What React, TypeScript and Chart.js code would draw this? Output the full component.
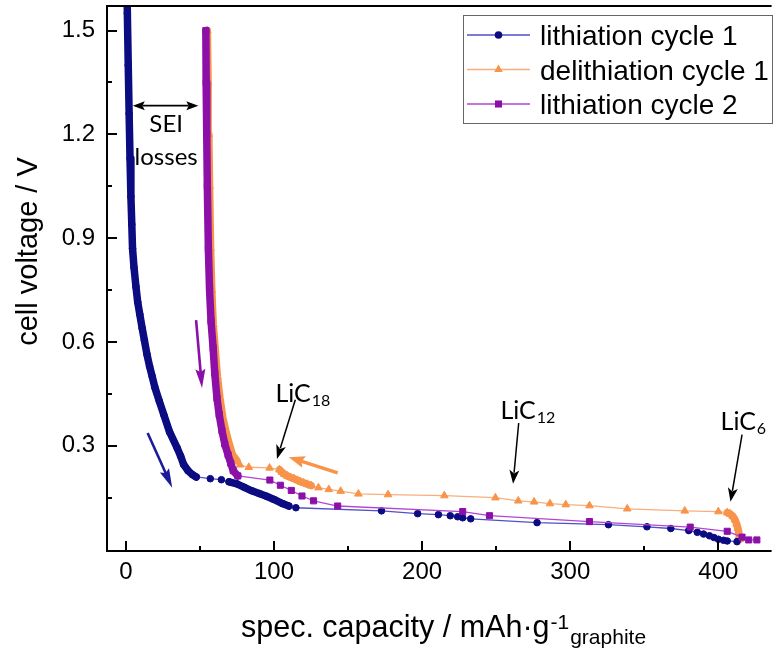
import React, { useEffect, useRef } from 'react';
import { Chart, registerables } from 'chart.js';

Chart.register(...registerables);

// ---------------- data ----------------
const lith1Capacity = [0, 0.5, 1.0, 1.6, 2.2, 2.8, 3.4, 4.0, 4.5, 5.5, 6.8, 8.0, 9.4, 11.0, 12.5, 14.2, 16.0, 17.8, 19.5, 22.5, 25.6, 29.5, 34.6, 37, 39, 42, 44.8, 47.5,
  57, 64.5,
  69.7, 75, 80, 85, 90, 95, 100, 105.7, 110,
  114.8, 172.6, 197, 211, 219, 224, 227.4, 232.8, 277.6, 325.8, 351.8, 367.9, 380, 385.8, 390, 394, 397, 400, 403.5, 406, 412.6];
const lith1Voltage = [1.9, 1.7, 1.55, 1.4, 1.26, 1.13, 1.02, 0.94, 0.87, 0.815, 0.76, 0.715, 0.68, 0.64, 0.605, 0.565, 0.53, 0.5, 0.47, 0.43, 0.39, 0.34, 0.294, 0.27, 0.246, 0.228, 0.217, 0.21,
  0.205, 0.202,
  0.196, 0.19, 0.18, 0.17, 0.162, 0.154, 0.145, 0.133, 0.126,
  0.121, 0.112, 0.104, 0.101, 0.098, 0.095, 0.092, 0.089, 0.078, 0.072, 0.066, 0.061, 0.055, 0.05, 0.045, 0.04, 0.035, 0.03, 0.027, 0.025, 0.023];

const delith1Capacity = [414.5, 414.2, 413.8, 413.2, 412.4, 411.3, 409.8, 408, 406,
  400, 377.3, 338.5, 313, 297, 286.3, 275.6, 264.9, 249.5, 215, 177, 157, 145, 137, 130,
  125, 122.5, 120, 118, 116, 113.5, 111, 109, 107, 105.3, 103.7,
  97, 83, 77,
  75, 72, 69.5, 67.5, 65.5, 63.5, 61.8, 60.3, 59, 58, 57.2, 56.5, 56, 55.5, 55];
const delith1Voltage = [0.03, 0.04, 0.05, 0.062, 0.074, 0.086, 0.096, 0.103, 0.107,
  0.11, 0.112, 0.118, 0.127, 0.13, 0.133, 0.138, 0.141, 0.15, 0.156, 0.159, 0.161, 0.169, 0.174, 0.179,
  0.185, 0.189, 0.193, 0.196, 0.2, 0.205, 0.209, 0.213, 0.218, 0.224, 0.231,
  0.236, 0.238, 0.245,
  0.257, 0.274, 0.31, 0.343, 0.38, 0.438, 0.5, 0.58, 0.65, 0.75, 0.87, 1.05, 1.2, 1.35, 1.5];

const lith2Capacity = [54, 54.2, 54.6, 55, 55.7, 56.5, 57.5, 58.9, 60, 61.5, 63, 64.9, 66.8, 69, 70.8, 72.5, 75.6,
  97.2, 104.3, 111.7, 118.9, 126.7, 143, 227.4, 245.5, 313, 381, 406, 416, 420.5, 426];
const lith2Voltage = [1.5, 1.35, 1.2, 1.05, 0.87, 0.75, 0.66, 0.583, 0.51, 0.438, 0.39, 0.343, 0.305, 0.274, 0.25, 0.228, 0.213,
  0.201, 0.186, 0.171, 0.155, 0.141, 0.126, 0.11, 0.098, 0.081, 0.065, 0.053, 0.036, 0.028, 0.028];

const seriesLabels = ['lithiation cycle 1', 'delithiation cycle 1', 'lithiation cycle 2'];

const xTickValues = [0, 100, 200, 300, 400];
const xMinorTickValues = [50, 150, 250, 350];
const yTickValues = [0.3, 0.6, 0.9, 1.2, 1.5];
const yMinorTickValues = [0.15, 0.45, 0.75, 1.05, 1.35];

const yAxisTitle = 'cell voltage / V';
const xAxisTitleMain = 'spec. capacity / mAh·g';
const xAxisTitleSup = '-1';
const xAxisTitleSub = 'graphite';

// index runs where the measured points are so dense that they merge into a thick band
const denseRuns: number[][][] = [
  [[0, 27], [30, 38]],
  [[0, 8], [24, 34], [38, 52]],
  [[0, 16]],
];

// ---------------- styles ----------------
const AXIS_FONT = '"Liberation Sans", Arial, Helvetica, sans-serif';
const NOTE_FONT = 'Lato, "Open Sans", sans-serif';
const markerColors = ['#0b0b82', '#f8944a', '#8c10a8'];
const lineColors = ['#5050c8', '#f9ae7c', '#b445d4'];
const pointStyles = ['circle', 'triangle', 'rect'];
const pointRadii = [3.3, 4.4, 4.3];

const X_MIN = -12.74;
const X_MAX = 434.6;
const Y_MIN = -0.004;
const Y_MAX = 1.571;

// annotations placed in data coordinates
const textNotes = [
  { x: 27.2, y: 1.206, text: 'SEI', align: 'center' },
  { x: 27.2, y: 1.111, text: 'losses', align: 'center' },
];
const chemNotes = [
  { x: 101, y: 0.426, main: 'LiC', sub: '18' },
  { x: 252.9, y: 0.378, main: 'LiC', sub: '12' },
  { x: 401.5, y: 0.347, main: 'LiC', sub: '6' },
];
const blackArrows = [
  { x1: 114.4, y1: 0.433, x2: 102, y2: 0.262 },
  { x1: 265.2, y1: 0.366, x2: 261.4, y2: 0.19 },
  { x1: 416, y1: 0.332, x2: 408.2, y2: 0.138 },
];
const seiArrow = { x1: 4.7, x2: 48.9, y: 1.283 };
const colorArrows = [
  { x1: 47.4, y1: 0.663, x2: 51.4, y2: 0.467, color: '#8c10a8', w: 2.6, hl: 19, hw: 5 },
  { x1: 14.7, y1: 0.337, x2: 31.3, y2: 0.179, color: '#1c1c9a', w: 2.6, hl: 19, hw: 5 },
  { x1: 143, y1: 0.222, x2: 110, y2: 0.267, color: '#f8944a', w: 3.4, hl: 16, hw: 6 },
];

function inRuns(runs: number[][], i0: number, i1: number) {
  return runs.some(([a, b]) => i0 >= a && i1 <= b);
}

function drawArrowHead(ctx: CanvasRenderingContext2D, x1: number, y1: number, x2: number, y2: number, hl: number, hw: number, notch: number) {
  const len = Math.hypot(x2 - x1, y2 - y1);
  const ux = (x2 - x1) / len, uy = (y2 - y1) / len;
  const bx = x2 - ux * hl, by = y2 - uy * hl;
  ctx.beginPath();
  ctx.moveTo(x2, y2);
  ctx.lineTo(bx - uy * hw, by + ux * hw);
  ctx.lineTo(x2 - ux * hl * notch, y2 - uy * hl * notch);
  ctx.lineTo(bx + uy * hw, by - ux * hw);
  ctx.closePath();
  ctx.fill();
}

function drawArrow(ctx: CanvasRenderingContext2D, x1: number, y1: number, x2: number, y2: number, color: string, lw: number, hl: number, hw: number, notch = 1) {
  const len = Math.hypot(x2 - x1, y2 - y1);
  const ux = (x2 - x1) / len, uy = (y2 - y1) / len;
  ctx.save();
  ctx.strokeStyle = color;
  ctx.fillStyle = color;
  ctx.lineWidth = lw;
  ctx.beginPath();
  ctx.moveTo(x1, y1);
  ctx.lineTo(x2 - ux * hl * 0.8, y2 - uy * hl * 0.8);
  ctx.stroke();
  drawArrowHead(ctx, x1, y1, x2, y2, hl, hw, notch);
  ctx.restore();
}

function drawMarker(ctx: CanvasRenderingContext2D, style: string, x: number, y: number, r: number, color: string) {
  ctx.save();
  ctx.fillStyle = color;
  ctx.beginPath();
  if (style === 'circle') {
    ctx.arc(x, y, r + 0.5, 0, Math.PI * 2);
  } else if (style === 'triangle') {
    const rr = r + 0.5;
    ctx.moveTo(x, y - rr);
    ctx.lineTo(x + rr * Math.sin(Math.PI * 2 / 3), y - rr * Math.cos(Math.PI * 2 / 3));
    ctx.lineTo(x + rr * Math.sin(Math.PI * 4 / 3), y - rr * Math.cos(Math.PI * 4 / 3));
    ctx.closePath();
  } else {
    const s = r * Math.SQRT1_2 + 0.5;
    ctx.rect(x - s, y - s, 2 * s, 2 * s);
  }
  ctx.fill();
  ctx.restore();
}

const decorPlugin = {
  id: 'decor',
  afterDraw(chart: any) {
    const ctx: CanvasRenderingContext2D = chart.ctx;
    const area = chart.chartArea;
    const xs = chart.scales.x;
    const ys = chart.scales.y;
    const px = (v: number) => xs.getPixelForValue(v);
    const py = (v: number) => ys.getPixelForValue(v);

    ctx.save();
    // frame (left, bottom, top)
    ctx.strokeStyle = '#000';
    ctx.lineWidth = 2;
    ctx.beginPath();
    ctx.moveTo(area.right + 2, area.top);
    ctx.lineTo(area.left, area.top);
    ctx.lineTo(area.left, area.bottom);
    ctx.lineTo(area.right + 2, area.bottom);
    ctx.stroke();

    // inward ticks
    ctx.lineWidth = 2;
    ctx.beginPath();
    xs.ticks.forEach((t: any) => {
      const x = Math.round(px(t.value));
      ctx.moveTo(x, area.bottom);
      ctx.lineTo(x, area.bottom - 10);
    });
    xMinorTickValues.forEach((v) => {
      const x = Math.round(px(v));
      ctx.moveTo(x, area.bottom);
      ctx.lineTo(x, area.bottom - 5);
    });
    ys.ticks.forEach((t: any) => {
      const y = Math.round(py(t.value));
      ctx.moveTo(area.left, y);
      ctx.lineTo(area.left + 10, y);
    });
    yMinorTickValues.forEach((v) => {
      const y = Math.round(py(v));
      ctx.moveTo(area.left, y);
      ctx.lineTo(area.left + 5, y);
    });
    ctx.stroke();

    // axis titles
    ctx.fillStyle = '#000';
    ctx.font = `29px ${AXIS_FONT}`;
    ctx.textBaseline = 'alphabetic';
    ctx.save();
    ctx.translate(37, (area.top + area.bottom) / 2 - 27);
    ctx.rotate(-Math.PI / 2);
    ctx.textAlign = 'center';
    ctx.fillText(yAxisTitle, 0, 0);
    ctx.restore();

    ctx.textAlign = 'left';
    ctx.font = `30.5px ${AXIS_FONT}`;
    const mainW = ctx.measureText(xAxisTitleMain).width;
    ctx.font = `21px ${AXIS_FONT}`;
    const supW = ctx.measureText(xAxisTitleSup).width;
    const startX = 241;
    const baseY = 637;
    ctx.font = `30.5px ${AXIS_FONT}`;
    ctx.fillText(xAxisTitleMain, startX, baseY);
    ctx.font = `21px ${AXIS_FONT}`;
    ctx.fillText(xAxisTitleSup, startX + mainW + 1, baseY - 8);
    ctx.fillText(xAxisTitleSub, startX + mainW + supW + 2, baseY + 7);

    // legend
    const lx = 463, ly = 15, lw = 309, lh = 108;
    ctx.fillStyle = '#fff';
    ctx.fillRect(lx, ly, lw, lh);
    ctx.strokeStyle = '#666';
    ctx.lineWidth = 1;
    ctx.strokeRect(lx + 0.5, ly + 0.5, lw, lh);
    const rowY = [35, 69.5, 104];
    chart.data.datasets.forEach((ds: any, i: number) => {
      const y = rowY[i];
      ctx.strokeStyle = lineColors[i];
      ctx.lineWidth = 1.5;
      ctx.beginPath();
      ctx.moveTo(467, y);
      ctx.lineTo(530, y);
      ctx.stroke();
      drawMarker(ctx, pointStyles[i], 498.5, y, pointRadii[i], markerColors[i]);
      ctx.fillStyle = '#000';
      ctx.font = `28px ${AXIS_FONT}`;
      ctx.textAlign = 'left';
      ctx.fillText(ds.label, 540, y + 10);
    });

    // annotations
    ctx.fillStyle = '#000';
    ctx.font = `24px ${NOTE_FONT}`;
    textNotes.forEach((n) => {
      ctx.textAlign = n.align as CanvasTextAlign;
      ctx.fillText(n.text, px(n.x), py(n.y));
    });
    ctx.textAlign = 'left';
    chemNotes.forEach((n) => {
      ctx.font = `25px ${NOTE_FONT}`;
      const x0 = px(n.x), y0 = py(n.y);
      ctx.fillText(n.main, x0, y0);
      const w = ctx.measureText(n.main).width;
      ctx.font = `16px ${NOTE_FONT}`;
      ctx.fillText(n.sub, x0 + w + 1, y0 + 4);
    });
    blackArrows.forEach((a) => {
      drawArrow(ctx, px(a.x1), py(a.y1), px(a.x2), py(a.y2), '#000', 1.5, 14, 5, 0.75);
    });
    const sy = py(seiArrow.y);
    drawArrow(ctx, px(seiArrow.x1) + 10, sy, px(seiArrow.x1), sy, '#000', 1.6, 12, 4.5, 0.8);
    drawArrow(ctx, px(seiArrow.x1) + 10, sy, px(seiArrow.x2), sy, '#000', 1.6, 12, 4.5, 0.8);
    colorArrows.forEach((a) => {
      drawArrow(ctx, px(a.x1), py(a.y1), px(a.x2), py(a.y2), a.color, a.w, a.hl, a.hw, 0.85);
    });
    ctx.restore();
  },
};

function makeDataset(i: number, xsArr: number[], ysArr: number[]) {
  const runs = denseRuns[i];
  return {
    label: seriesLabels[i],
    data: xsArr.map((x, k) => ({ x, y: ysArr[k] })),
    borderColor: lineColors[i],
    borderWidth: 1.3,
    backgroundColor: markerColors[i],
    pointBackgroundColor: markerColors[i],
    pointBorderColor: markerColors[i],
    pointBorderWidth: 1,
    pointStyle: pointStyles[i],
    pointRadius: pointRadii[i],
    borderCapStyle: 'round',
    borderJoinStyle: 'round',
    tension: 0,
    fill: false,
    segment: {
      borderWidth: (c: any) => (inRuns(runs, c.p0DataIndex, c.p1DataIndex) ? 7.5 : undefined),
      borderColor: (c: any) => (inRuns(runs, c.p0DataIndex, c.p1DataIndex) ? markerColors[i] : undefined),
    },
  };
}

export default function App() {
  const canvasRef = useRef<HTMLCanvasElement | null>(null);

  useEffect(() => {
    document.body.style.margin = '0';
    const canvas = canvasRef.current;
    if (!canvas) return;
    const blue = makeDataset(0, lith1Capacity, lith1Voltage);
    const orange = makeDataset(1, delith1Capacity, delith1Voltage);
    const purple = makeDataset(2, lith2Capacity, lith2Voltage);
    (blue as any).order = 1;
    (orange as any).order = 2;
    (purple as any).order = 0;

    const chart = new Chart(canvas, {
      type: 'line',
      data: { datasets: [blue, orange, purple] as any },
      options: {
        animation: false,
        responsive: false,
        devicePixelRatio: 1,
        parsing: false as any,
        layout: { padding: { top: 6, right: 0, bottom: 0, left: 0 } },
        plugins: {
          legend: { display: false },
          title: { display: false },
          tooltip: { enabled: false },
        },
        scales: {
          x: {
            type: 'linear',
            min: X_MIN,
            max: X_MAX,
            grid: { display: false, drawTicks: false },
            border: { display: false },
            afterBuildTicks: (scale: any) => {
              scale.ticks = xTickValues.map((v) => ({ value: v }));
            },
            afterFit: (scale: any) => {
              scale.height = 102;
              scale.paddingLeft = 0;
              scale.paddingRight = 0;
              scale.paddingTop = 0;
              scale.paddingBottom = 0;
            },
            ticks: {
              padding: 7,
              color: '#000',
              maxRotation: 0,
              font: { family: AXIS_FONT, size: 24 },
              callback: (v: any) => String(v),
            },
          },
          y: {
            type: 'linear',
            min: Y_MIN,
            max: Y_MAX,
            grid: { display: false, drawTicks: false },
            border: { display: false },
            afterBuildTicks: (scale: any) => {
              scale.ticks = yTickValues.map((v) => ({ value: v }));
            },
            afterFit: (scale: any) => {
              scale.width = 107;
              scale.paddingLeft = 0;
              scale.paddingRight = 0;
              scale.paddingTop = 0;
              scale.paddingBottom = 0;
            },
            ticks: {
              padding: 12,
              color: '#000',
              font: { family: AXIS_FONT, size: 24 },
              callback: (v: any) => Number(v).toFixed(1),
            },
          },
        },
      },
      plugins: [decorPlugin],
    });
    return () => chart.destroy();
  }, []);

  return (
    <div style={{ width: 775, height: 653, background: '#fff' }}>
      <canvas ref={canvasRef} width={775} height={653} style={{ display: 'block' }} />
    </div>
  );
}
